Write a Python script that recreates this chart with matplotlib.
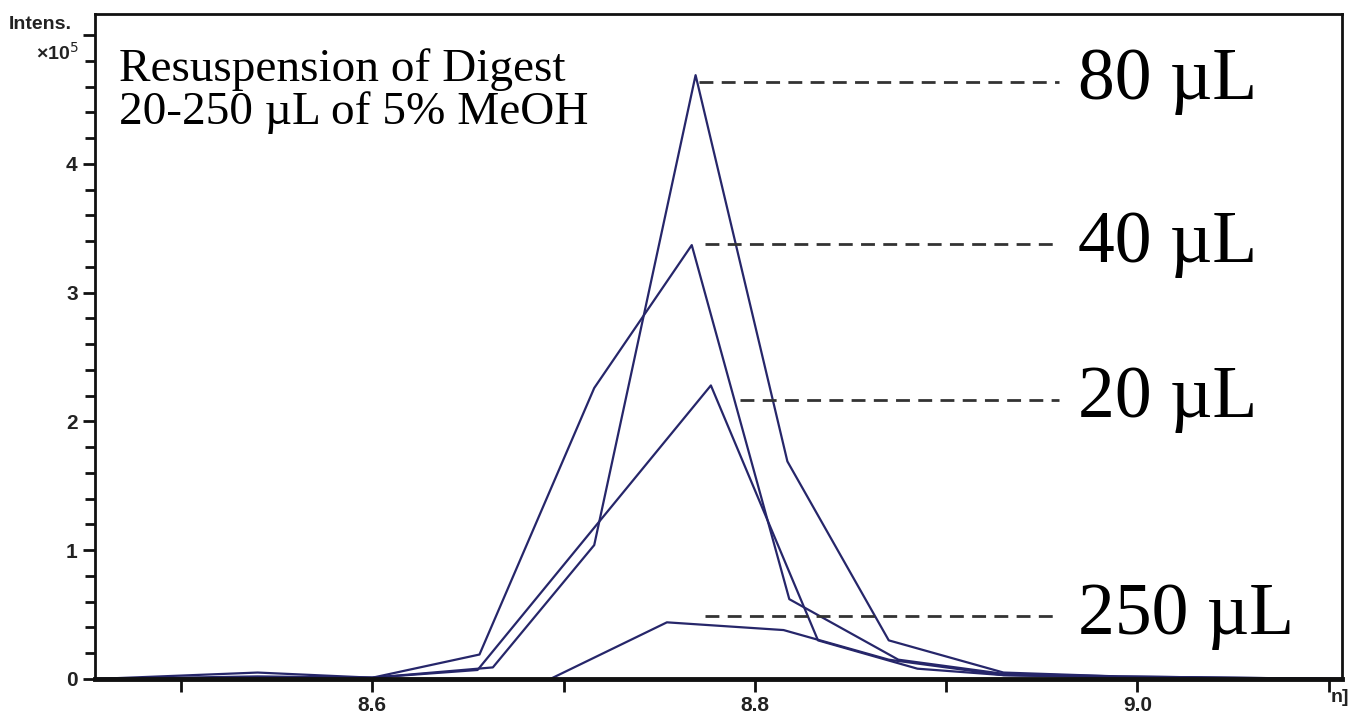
import matplotlib
matplotlib.use('Agg')
import matplotlib.pyplot as plt
from matplotlib.ticker import MultipleLocator, FuncFormatter

# Retention time (min) and intensity (x10^5)
t80 = [8.455, 8.54, 8.60, 8.663, 8.716, 8.769, 8.817, 8.870, 8.930, 8.99, 9.05, 9.107]
i80 = [0.0, 0.02, 0.01, 0.09, 1.04, 4.69, 1.69, 0.30, 0.05, 0.02, 0.01, 0.0]

t40 = [8.455, 8.54, 8.60, 8.656, 8.716, 8.767, 8.818, 8.875, 8.93, 8.99, 9.107]
i40 = [0.0, 0.05, 0.01, 0.19, 2.26, 3.37, 0.62, 0.15, 0.04, 0.02, 0.0]

t20 = [8.455, 8.54, 8.60, 8.655, 8.777, 8.833, 8.885, 8.93, 9.0, 9.107]
i20 = [0.0, 0.01, 0.01, 0.07, 2.28, 0.30, 0.08, 0.03, 0.01, 0.0]

t250 = [8.455, 8.55, 8.60, 8.693, 8.754, 8.815, 8.870, 8.93, 9.0, 9.107]
i250 = [0.0, 0.0, 0.0, 0.0, 0.44, 0.38, 0.15, 0.03, 0.01, 0.0]

# Dashed marker lines: level, start time, label
levels = [4.64, 3.38, 2.17, 0.49]
dash_start = [8.771, 8.774, 8.792, 8.774]
labels = ['80 \u00b5L', '40 \u00b5L', '20 \u00b5L', '250 \u00b5L']
dash_end = 8.959

title_lines = ['Resuspension of Digest', '20-250 \u00b5L of 5% MeOH']

line_color = '#26266a'

fig = plt.figure(figsize=(13.5, 7.13), dpi=100)
ax = fig.add_axes([0.0704, 0.0477, 0.9237, 0.9327])

for t, i in [(t80, i80), (t40, i40), (t20, i20), (t250, i250)]:
    ax.plot(t, i, color=line_color, linewidth=1.6)

for lev, x0, lab in zip(levels, dash_start, labels):
    ax.plot([x0, dash_end], [lev, lev], color='#333333', linewidth=2,
            linestyle=(0, (5, 3)))
    ax.text(8.969, lev, lab, fontsize=53, family='Liberation Serif',
            va='center', ha='left')

for yy, line in zip([0.917, 0.851], title_lines):
    ax.text(0.019, yy, line, transform=ax.transAxes, fontsize=34,
            family='Liberation Serif', va='center', ha='left')

ax.set_xlim(8.455, 9.107)
ax.set_ylim(0, 5.165)

ax.xaxis.set_major_locator(MultipleLocator(0.1))
ax.xaxis.set_major_formatter(FuncFormatter(
    lambda v, p: '%.1f' % v if round(v * 10) % 2 == 0 else ''))
ax.set_yticks([0, 1, 2, 3, 4, 5])
ax.set_yticklabels(['0', '1', '2', '3', '4', ''])
ax.yaxis.set_minor_locator(MultipleLocator(0.2))

ax.tick_params(axis='both', which='major', direction='out', length=9,
               width=2, labelsize=15, color='#111111')
ax.tick_params(axis='x', which='major', pad=3)
ax.tick_params(axis='y', which='minor', direction='out', length=7, width=2,
               color='#111111')
for lab in ax.get_xticklabels() + ax.get_yticklabels():
    lab.set_family('Liberation Sans')
    lab.set_fontweight('bold')
    lab.set_color('#222222')

for side in ['top', 'right', 'left']:
    ax.spines[side].set_linewidth(2)
    ax.spines[side].set_color('#111111')
ax.spines['bottom'].set_linewidth(3.5)
ax.spines['bottom'].set_color('#111111')

fig.text(0.053, 0.965, 'Intens.', fontsize=14, family='Liberation Sans',
         fontweight='bold', ha='right', va='center', color='#222222')
fig.text(0.058, 0.926, '\u00d710$^5$', fontsize=14, family='Liberation Sans',
         fontweight='bold', ha='right', va='center', color='#222222')
fig.text(0.999, 0.022, 'n]', fontsize=14, family='Liberation Sans',
         fontweight='bold', ha='right', va='center', color='#222222')

fig.savefig('out.png', dpi=100, facecolor='white')
